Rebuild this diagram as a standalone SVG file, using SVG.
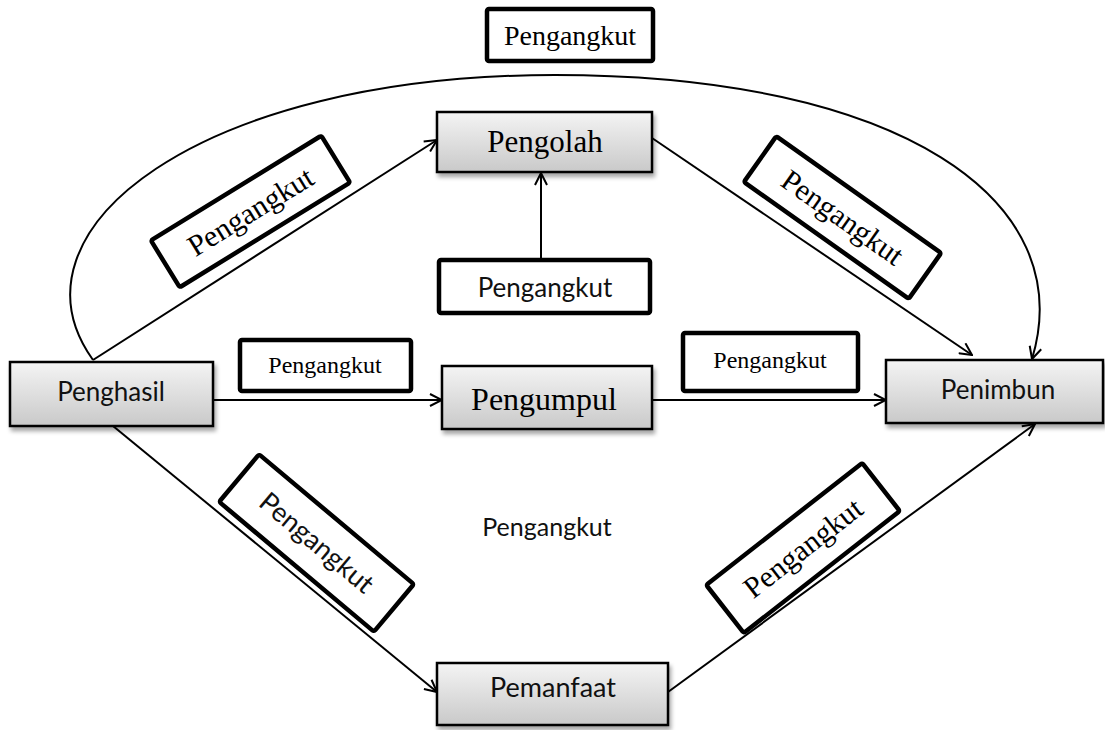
<svg xmlns="http://www.w3.org/2000/svg" width="1105" height="730" viewBox="0 0 1105 730">
<defs>
<linearGradient id="g" x1="0" y1="0" x2="0" y2="1">
<stop offset="0" stop-color="#f4f4f4"/>
<stop offset="1" stop-color="#c9c9c9"/>
</linearGradient>
<filter id="sh" x="-10%" y="-10%" width="130%" height="140%">
<feGaussianBlur in="SourceAlpha" stdDeviation="2"/>
<feOffset dx="2" dy="4" result="b"/>
<feComponentTransfer><feFuncA type="linear" slope="0.35"/></feComponentTransfer>
<feMerge><feMergeNode/><feMergeNode in="SourceGraphic"/></feMerge>
</filter>
<marker id="arr" viewBox="0 0 14 14" refX="13" refY="7" markerWidth="14" markerHeight="14" markerUnits="userSpaceOnUse" orient="auto">
<path d="M1,1 L13,7 L1,13" fill="none" stroke="#000" stroke-width="2"/>
</marker>
</defs>
<style>
.node{fill:url(#g);stroke:#000;stroke-width:2.5;filter:url(#sh)}
.lab{fill:#fff;stroke:#000;stroke-width:4.5}
.labt{fill:#fff;stroke:none}
.con{fill:none;stroke:#000;stroke-width:2;marker-end:url(#arr)}
.serif{font-family:"Liberation Serif","Times New Roman",serif;fill:#000}
.sans{font-family:Lato,"Liberation Sans",sans-serif;fill:#111}
</style>
<rect width="1105" height="730" fill="#fff"/>

<g id="connectors">
<path class="con" d="M93,360 C0,230 200,75 555,75 C900,75 1080,200 1032,359"/>
<line class="con" x1="93" y1="360" x2="437" y2="140"/>
<line class="con" x1="213" y1="400" x2="442" y2="400"/>
<line class="con" x1="113" y1="426" x2="437" y2="692"/>
<line class="con" x1="652" y1="138" x2="972" y2="355"/>
<line class="con" x1="652" y1="400" x2="886" y2="400"/>
<line class="con" x1="668" y1="692" x2="1035" y2="424"/>
<line class="con" x1="541" y1="260" x2="541" y2="173"/>
</g>

<g id="lbl-top">
<rect class="lab" x="487" y="9" width="166" height="52" rx="2"/>
<text class="serif" x="570" y="45" font-size="28" text-anchor="middle">Pengangkut</text>
</g>
<g id="lbl-ul" transform="translate(250.5,211.5) rotate(-31.6)">
<rect class="lab" x="-100" y="-27.5" width="200" height="55" rx="2"/>
<text class="serif" x="0" y="10" font-size="30" text-anchor="middle">Pengangkut</text>
</g>
<g id="lbl-ur" transform="translate(842.5,217.5) rotate(35.3)">
<rect class="lab" x="-101" y="-28" width="202" height="56" rx="2"/>
<text class="serif" x="0" y="10" font-size="30" text-anchor="middle">Pengangkut</text>
</g>
<g id="lbl-center">
<rect class="lab" x="439" y="260" width="211" height="53" rx="2"/>
<text class="sans" x="545" y="297" font-size="26" text-anchor="middle">Pengangkut</text>
</g>
<g id="lbl-lm">
<rect class="lab" x="240" y="340" width="171" height="51" rx="2"/>
<text class="serif" x="325" y="373" font-size="24" text-anchor="middle">Pengangkut</text>
</g>
<g id="lbl-rm">
<rect class="lab" x="683" y="333" width="175" height="58" rx="2"/>
<text class="serif" x="770" y="368" font-size="24" text-anchor="middle">Pengangkut</text>
</g>
<g id="lbl-lower">
<rect class="labt" x="439" y="497" width="212" height="60"/>
<text class="sans" x="547" y="536" font-size="25" text-anchor="middle">Pengangkut</text>
</g>
<g id="lbl-ll" transform="translate(316.5,543) rotate(40)">
<rect class="lab" x="-101" y="-31" width="202" height="62" rx="2"/>
<text class="sans" x="0" y="9" font-size="27" text-anchor="middle">Pengangkut</text>
</g>
<g id="lbl-lr" transform="translate(803,548) rotate(-38)">
<rect class="lab" x="-99" y="-30.5" width="198" height="61" rx="2"/>
<text class="serif" x="0" y="10" font-size="30" text-anchor="middle">Pengangkut</text>
</g>

<g id="penghasil">
<rect class="node" x="10" y="362" width="203" height="64"/>
<text class="sans" x="111" y="401" font-size="26" text-anchor="middle">Penghasil</text>
</g>
<g id="pengolah">
<rect class="node" x="437" y="112" width="215" height="60"/>
<text class="serif" x="545" y="152" font-size="31" text-anchor="middle">Pengolah</text>
</g>
<g id="pengumpul">
<rect class="node" x="442" y="366" width="210" height="63"/>
<text class="serif" x="544" y="410" font-size="32" text-anchor="middle">Pengumpul</text>
</g>
<g id="penimbun">
<rect class="node" x="886" y="360" width="217" height="63"/>
<text class="sans" x="998" y="399" font-size="26" text-anchor="middle">Penimbun</text>
</g>
<g id="pemanfaat">
<rect class="node" x="437" y="663" width="231" height="62"/>
<text class="sans" x="553" y="697" font-size="27" text-anchor="middle">Pemanfaat</text>
</g>
</svg>
